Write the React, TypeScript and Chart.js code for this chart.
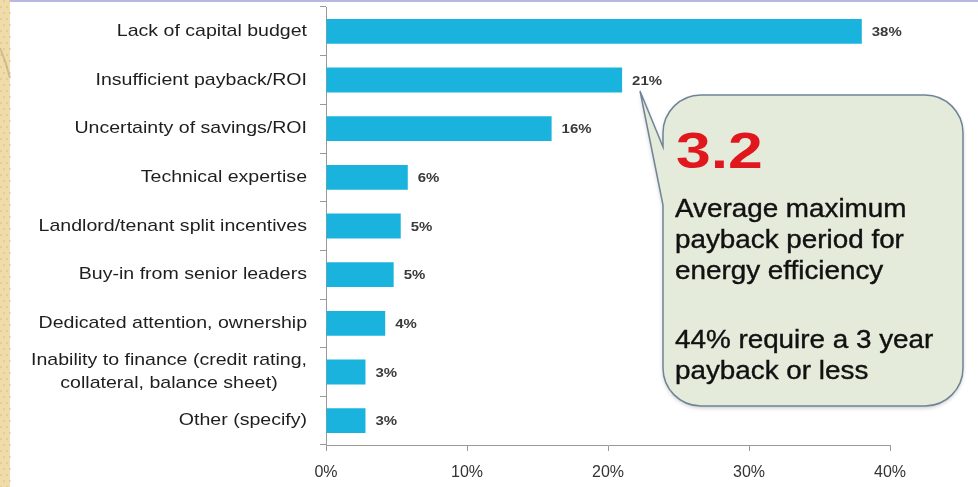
import React, { useEffect, useRef } from "react";
import { Chart, registerables } from "chart.js";

Chart.register(...registerables);

const categories: (string | string[])[] = [
  "Lack of capital budget",
  "Insufficient payback/ROI",
  "Uncertainty of savings/ROI",
  "Technical expertise",
  "Landlord/tenant split incentives",
  "Buy-in from senior leaders",
  "Dedicated attention, ownership",
  ["Inability to finance (credit rating,", "collateral, balance sheet)"],
  "Other (specify)",
];
const values = [38, 21, 16, 5.8, 5.3, 4.8, 4.2, 2.8, 2.8];
const valueLabels = ["38%", "21%", "16%", "6%", "5%", "5%", "4%", "3%", "3%"];
const xMin = 0;
const xMax = 40;
const xStep = 10;
const calloutFigure = "3.2";
const calloutLinesA = ["Average maximum", "payback period for", "energy efficiency"];
const calloutLinesB = ["44% require a 3 year", "payback or less"];

const FONT = "'Liberation Sans', Arial, sans-serif";

const decorPlugin = {
  id: "decor",
  beforeDraw(chart: any) {
    const { ctx, width, height } = chart;
    ctx.save();
    ctx.fillStyle = "#ffffff";
    ctx.fillRect(0, 0, width, height);
    // left decorative strip
    ctx.fillStyle = "#f0dcab";
    ctx.fillRect(0, 0, 10, height);
    ctx.fillStyle = "rgba(205,175,105,0.35)";
    for (let y = 0; y < height; y += 6) {
      for (let x = (y / 6) % 2 ? 0 : 3; x < 10; x += 6) ctx.fillRect(x, y, 2, 2);
    }
    ctx.strokeStyle = "rgba(185,160,120,0.55)";
    ctx.lineWidth = 2;
    ctx.beginPath();
    ctx.moveTo(0, 48);
    ctx.quadraticCurveTo(6, 62, 10, 78);
    ctx.stroke();
    // top border line
    ctx.fillStyle = "#b7b7e2";
    ctx.fillRect(10, 0, width - 10, 2);
    ctx.restore();
  },
  afterDraw(chart: any) {
    const { ctx, chartArea } = chart;
    const yScale = chart.scales.y;
    ctx.save();
    // category labels
    const sx = 1.15;
    const right = chartArea.left - 19;
    ctx.fillStyle = "#1e1e1e";
    ctx.font = `17px ${FONT}`;
    ctx.textBaseline = "middle";
    categories.forEach((lab, i) => {
      const y = yScale.getPixelForValue(i);
      const lines = Array.isArray(lab) ? lab : [lab];
      const maxW = Math.max(...lines.map((l) => ctx.measureText(l).width));
      ctx.save();
      ctx.translate(right, y);
      ctx.scale(sx, 1);
      ctx.textAlign = "center";
      lines.forEach((l, j) => {
        ctx.fillText(l, -maxW / 2, (j - (lines.length - 1) / 2) * 23);
      });
      ctx.restore();
    });
    // value labels
    const meta = chart.getDatasetMeta(0);
    ctx.font = `bold 13px ${FONT}`;
    ctx.fillStyle = "#3a3a3a";
    ctx.textAlign = "left";
    meta.data.forEach((el: any, i: number) => {
      ctx.save();
      ctx.translate(el.x + 10, el.y + 1);
      ctx.scale(1.15, 1);
      ctx.fillText(valueLabels[i], 0, 0);
      ctx.restore();
    });
    // callout bubble
    const x0 = 663, y0 = 95, x1 = 963, y1 = 406, r = 38;
    const tipX = 640, tipY = 91, baseTop = 147, baseBot = 205;
    ctx.save();
    ctx.beginPath();
    ctx.moveTo(x0 + r, y0);
    ctx.lineTo(x1 - r, y0);
    ctx.arcTo(x1, y0, x1, y0 + r, r);
    ctx.lineTo(x1, y1 - r);
    ctx.arcTo(x1, y1, x1 - r, y1, r);
    ctx.lineTo(x0 + r, y1);
    ctx.arcTo(x0, y1, x0, y1 - r, r);
    ctx.lineTo(x0, baseBot);
    ctx.lineTo(tipX, tipY);
    ctx.lineTo(x0, baseTop);
    ctx.arcTo(x0, y0, x0 + r, y0, r);
    ctx.closePath();
    ctx.shadowColor = "rgba(0,0,0,0.22)";
    ctx.shadowBlur = 4;
    ctx.shadowOffsetY = 2;
    ctx.fillStyle = "#e5ebdb";
    ctx.fill();
    ctx.shadowColor = "transparent";
    ctx.strokeStyle = "#6f8497";
    ctx.lineWidth = 1.5;
    ctx.stroke();
    ctx.restore();
    // callout text
    ctx.textAlign = "left";
    ctx.textBaseline = "alphabetic";
    ctx.save();
    ctx.translate(676, 168);
    ctx.scale(1.25, 1);
    ctx.font = `bold 50px ${FONT}`;
    ctx.fillStyle = "#e1171e";
    ctx.fillText(calloutFigure, 0, 0);
    ctx.restore();
    ctx.font = `26px ${FONT}`;
    ctx.fillStyle = "#111";
    ctx.strokeStyle = "#111";
    ctx.lineWidth = 0.4;
    const drawLine = (t: string, by: number) => {
      ctx.save();
      ctx.translate(675, by);
      ctx.scale(1.07, 1);
      ctx.fillText(t, 0, 0);
      ctx.strokeText(t, 0, 0);
      ctx.restore();
    };
    calloutLinesA.forEach((t, j) => drawLine(t, 217 + j * 31));
    calloutLinesB.forEach((t, j) => drawLine(t, 348 + j * 31));
    ctx.restore();
  },
};

export default function App() {
  const ref = useRef<HTMLCanvasElement | null>(null);
  useEffect(() => {
    document.body.style.margin = "0";
    const canvas = ref.current;
    if (!canvas) return;
    const chart = new Chart(canvas, {
      type: "bar",
      data: {
        labels: categories as any,
        datasets: [
          {
            data: values,
            backgroundColor: "#19b3dd",
            barPercentage: 0.51,
            categoryPercentage: 1,
          },
        ],
      },
      options: {
        responsive: false,
        animation: false,
        devicePixelRatio: 1,
        indexAxis: "y",
        layout: { padding: { top: 7, right: 88, bottom: 0, left: 0 } },
        plugins: { legend: { display: false }, tooltip: { enabled: false } },
        scales: {
          x: {
            type: "linear",
            min: xMin,
            max: xMax,
            ticks: {
              stepSize: xStep,
              callback: (v: any) => v + "%",
              font: { family: FONT, size: 16 },
              color: "#333",
              padding: 12,
              maxRotation: 0,
            },
            grid: { drawOnChartArea: false, drawTicks: true, tickLength: 6, color: "#999" },
            border: { color: "#999" },
            afterFit: (s: any) => {
              s.height = 42;
            },
          },
          y: {
            ticks: { display: false },
            grid: { drawOnChartArea: false, drawTicks: true, tickLength: 6, color: "#999", offset: true },
            border: { color: "#999" },
            afterFit: (s: any) => {
              s.width = 326;
            },
          },
        },
      } as any,
      plugins: [decorPlugin],
    });
    return () => chart.destroy();
  }, []);
  return (
    <div style={{ width: 978, height: 487 }}>
      <canvas ref={ref} width={978} height={487} style={{ display: "block" }} />
    </div>
  );
}
